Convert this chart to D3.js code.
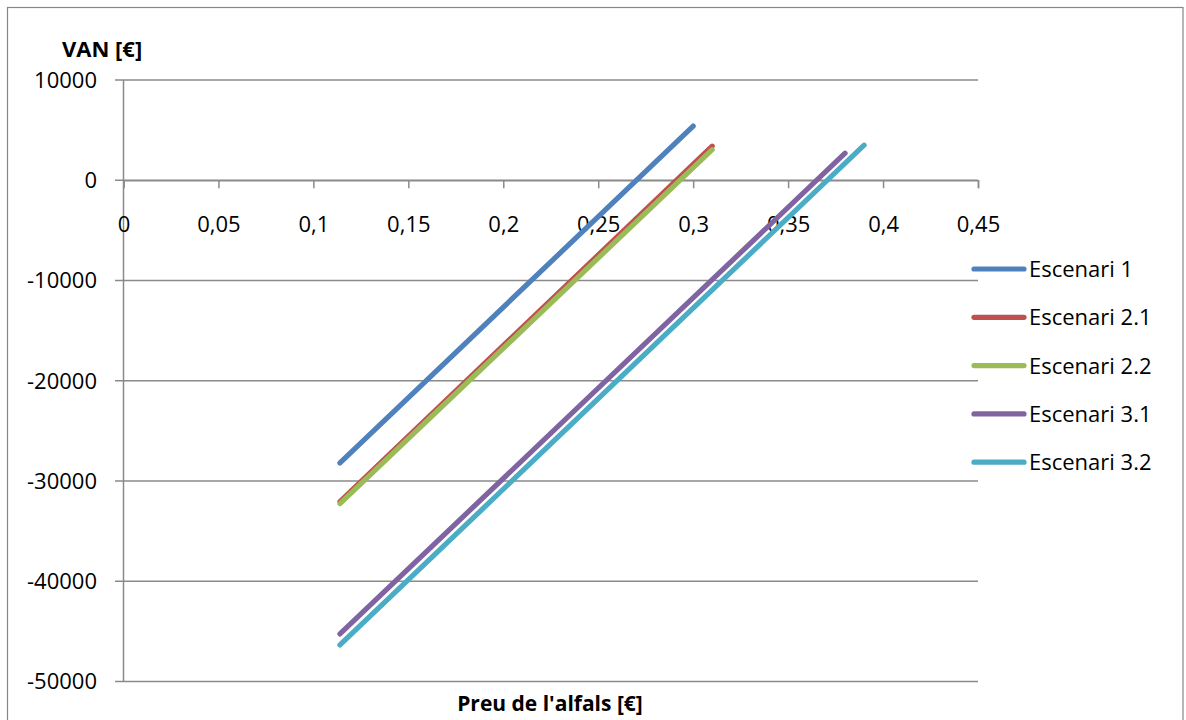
<!DOCTYPE html>
<html>
<head>
<meta charset="utf-8">
<script src="https://cdn.jsdelivr.net/npm/d3@7"></script>
<style>
  html, body { margin: 0; padding: 0; background: #fff; }
  svg { display: block; }
  text { font-family: "Open Sans", sans-serif; fill: #000; }
</style>
</head>
<body>
<script>
// ---- data ----
const seriesNames = ["Escenari 1", "Escenari 2.1", "Escenari 2.2", "Escenari 3.1", "Escenari 3.2"];
const seriesColors = ["#4F81BD", "#C0504D", "#9BBB59", "#8064A2", "#4BACC6"];
const priceStart = [0.114, 0.114, 0.114, 0.114, 0.114];
const priceEnd   = [0.30, 0.31, 0.31, 0.38, 0.39];
const vanStart   = [-28200, -32050, -32250, -45250, -46350];
const vanEnd     = [5400, 3400, 3050, 2700, 3500];
const xTicks = [0, 0.05, 0.1, 0.15, 0.2, 0.25, 0.3, 0.35, 0.4, 0.45];
const xTickLabels = ["0", "0,05", "0,1", "0,15", "0,2", "0,25", "0,3", "0,35", "0,4", "0,45"];
const yTicks = [10000, 0, -10000, -20000, -30000, -40000, -50000];
const yTickLabels = ["10000", "0", "-10000", "-20000", "-30000", "-40000", "-50000"];
const yTitle = "VAN [€]";
const xTitle = "Preu de l'alfals [€]";

const W = 1186, H = 720;
const svg = d3.select("body").append("svg").attr("width", W).attr("height", H);

// outer frame
svg.append("rect").attr("x", 7.5).attr("y", 7.5).attr("width", 1175.5).attr("height", 730)
  .attr("fill", "#fff").attr("stroke", "#868686").attr("stroke-width", 1.2);

const x = d3.scaleLinear().domain([0, 0.45]).range([123.5, 978]);
const y = d3.scaleLinear().domain([-50000, 10000]).range([681.5, 80]);
const grey = "#8a8a8a";

// horizontal gridlines (with left tick)
svg.append("g").selectAll("line").data(yTicks).join("line")
  .attr("x1", 115).attr("x2", x(0.45))
  .attr("y1", d => y(d)).attr("y2", d => y(d))
  .attr("stroke", grey).attr("stroke-width", 1.5);

// vertical axis
svg.append("line").attr("x1", x(0)).attr("x2", x(0)).attr("y1", y(10000)).attr("y2", y(-50000))
  .attr("stroke", grey).attr("stroke-width", 1.5);

// x axis at y=0 via d3 axis
const xAxis = d3.axisBottom(x).tickValues(xTicks).tickSize(8).tickFormat((d, i) => xTickLabels[i]);
const gx = svg.append("g").attr("transform", `translate(0,${y(0)})`).call(xAxis);
gx.select(".domain").attr("stroke", grey).attr("stroke-width", 1.5);
gx.selectAll(".tick line").attr("stroke", grey).attr("stroke-width", 1.5);
gx.selectAll(".tick text").attr("y", 0).attr("dy", 0).attr("transform", "translate(0,51.5)")
  .style("font-family", "'Open Sans', sans-serif").style("font-size", "22px").attr("fill", "#000");

// y axis labels
const yAxis = d3.axisLeft(y).tickValues(yTicks).tickSize(0).tickFormat((d, i) => yTickLabels[i]);
const gy = svg.append("g").attr("transform", `translate(97,0)`).call(yAxis);
gy.select(".domain").remove();
gy.selectAll(".tick text").attr("x", 0).attr("dy", "0.34em")
  .style("font-family", "'Open Sans', sans-serif").style("font-size", "22px").attr("fill", "#000");

// series lines
const line = d3.line().x(d => x(d[0])).y(d => y(d[1]));
seriesNames.forEach((name, i) => {
  const pts = [[priceStart[i], vanStart[i]], [priceEnd[i], vanEnd[i]]];
  svg.append("path").datum(pts).attr("d", line)
    .attr("fill", "none").attr("stroke", seriesColors[i]).attr("stroke-width", 5.2)
    .attr("stroke-linecap", "round");
});

// titles
svg.append("text").attr("x", 62).attr("y", 57).text(yTitle)
  .style("font-weight", "bold").style("font-size", "22px");
svg.append("text").attr("x", 550).attr("y", 711).attr("text-anchor", "middle").text(xTitle)
  .style("font-weight", "bold").style("font-size", "21px");

// legend
const lg = svg.append("g");
seriesNames.forEach((name, i) => {
  const ly = 269 + i * 48.3;
  lg.append("line").attr("x1", 974).attr("x2", 1024).attr("y1", ly).attr("y2", ly)
    .attr("stroke", seriesColors[i]).attr("stroke-width", 5.2).attr("stroke-linecap", "round");
  lg.append("text").attr("x", 1029).attr("y", ly + 8).text(name).style("font-size", "22px");
});
</script>
</body>
</html>
